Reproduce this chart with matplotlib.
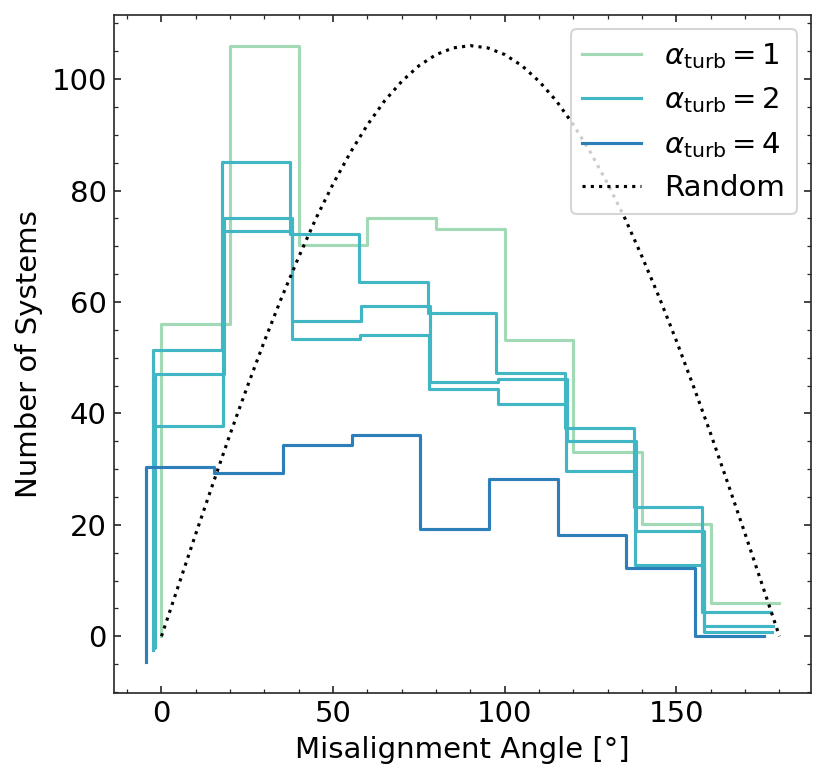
import matplotlib
matplotlib.use('Agg')
import matplotlib.pyplot as plt
import numpy as np

plt.rcParams['font.size'] = 14
plt.rcParams['xtick.direction'] = 'in'
plt.rcParams['ytick.direction'] = 'in'
plt.rcParams['xtick.top'] = True
plt.rcParams['ytick.right'] = True
plt.rcParams['xtick.minor.visible'] = True
plt.rcParams['ytick.minor.visible'] = True

# bin edges of the misalignment histograms (deg)
edges = [0, 20, 40, 60, 80, 100, 120, 140, 160, 180]

# alpha_turb = 1
counts_a1 = [56.0, 106.0, 70.2, 75.0, 73.1, 53.2, 33.0, 20.1, 6.0]
shift_a1 = 0.0

# alpha_turb = 2 (three runs)
counts_a2_run1 = [51.3, 85.2, 72.2, 63.6, 58.1, 47.2, 37.4, 23.2, 4.3]
counts_a2_run2 = [47.0, 75.0, 56.6, 59.2, 45.6, 46.2, 35.0, 18.9, 1.9]
counts_a2_run3 = [37.7, 72.7, 53.3, 54.1, 44.4, 41.6, 29.6, 12.8, 0.7]
shifts_a2 = [-2.5, -1.9, -2.1]

# alpha_turb = 4
counts_a4 = [30.3, 29.3, 34.3, 36.2, 19.2, 28.2, 18.2, 12.2, 0.0]
shift_a4 = -4.6

# isotropic (random) expectation, read every 5 deg
rand_angle = list(range(0, 181, 5))
rand_count = [0.0, 9.2, 18.4, 27.4, 36.3, 44.8, 53.0, 60.8, 68.1, 75.0,
              81.2, 86.8, 91.8, 96.1, 99.6, 102.4, 104.4, 105.6, 106.0,
              105.6, 104.4, 102.4, 99.6, 96.1, 91.8, 86.8, 81.2, 75.0,
              68.1, 60.8, 53.0, 44.8, 36.3, 27.4, 18.4, 9.2, 0.0]

c1 = '#a1dab4'
c2 = '#41b6c4'
c4 = '#2c7fb8'


def step_line(ax, counts, shift, color, label=None):
    e = np.asarray(edges, dtype=float) + shift
    x = np.concatenate([[e[0]], np.ravel(np.column_stack([e[:-1], e[1:]]))])
    y = np.concatenate([[shift], np.repeat(counts, 2)])
    return ax.plot(x, y, color=color, lw=1.5, label=label)


fig = plt.figure(figsize=(826 / 150, 781 / 150), dpi=150)
ax = fig.add_subplot(111)
fig.subplots_adjust(left=0.138, right=0.982, bottom=0.113, top=0.981)

step_line(ax, counts_a1, shift_a1, c1, r'$\alpha_{\rm turb}=1$')
step_line(ax, counts_a2_run1, shifts_a2[0], c2, r'$\alpha_{\rm turb}=2$')
step_line(ax, counts_a2_run2, shifts_a2[1], c2)
step_line(ax, counts_a2_run3, shifts_a2[2], c2)
step_line(ax, counts_a4, shift_a4, c4, r'$\alpha_{\rm turb}=4$')
ax.plot(rand_angle, rand_count, color='k', ls=':', lw=1.5, label='Random')

for s in ax.spines.values():
    s.set_color('.15')
ax.tick_params(which='both', colors='.15', labelcolor='k')

ax.set_xlabel('Misalignment Angle [°]')
ax.set_ylabel('Number of Systems')
ax.legend(loc='upper right')

fig.savefig('out.png', dpi=150)
